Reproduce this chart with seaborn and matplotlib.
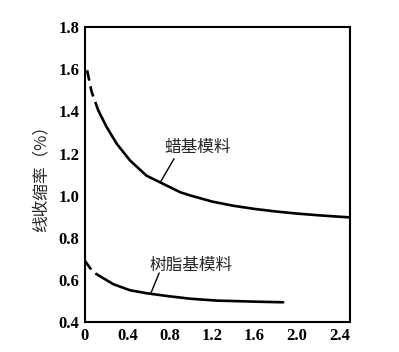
import seaborn as sns
from matplotlib import pyplot as plt

# wax-based pattern material (dashed start, then solid)
wax_dash_x = [0.02, 0.063, 0.125]
wax_dash_y = [1.595, 1.492, 1.405]
wax_x = [0.125, 0.205, 0.30, 0.425, 0.58, 0.71, 0.90, 1.00, 1.20, 1.40, 1.60, 1.80, 2.00, 2.20, 2.40, 2.50]
wax_y = [1.405, 1.325, 1.246, 1.167, 1.095, 1.063, 1.016, 1.000, 0.972, 0.952, 0.937, 0.925, 0.915, 0.907, 0.900, 0.897]

# resin-based pattern material
resin_dash_x = [0.0, 0.05, 0.11]
resin_dash_y = [0.690, 0.655, 0.627]
resin_x = [0.11, 0.267, 0.425, 0.58, 0.77, 0.99, 1.24, 1.60, 1.87]
resin_y = [0.627, 0.580, 0.551, 0.537, 0.524, 0.511, 0.502, 0.497, 0.494]

xticks = [0, 0.4, 0.8, 1.2, 1.6, 2.0, 2.4]
xtick_labels = ['0', '0.4', '0.8', '1.2', '1.6', '2.0', '2.4']
yticks = [0.4, 0.6, 0.8, 1.0, 1.2, 1.4, 1.6, 1.8]

sns.set_theme(style="white")
plt.rcParams['font.family'] = ['Liberation Serif', 'Noto Sans CJK SC', 'DejaVu Sans']

fig = plt.figure(figsize=(3.99, 3.52), dpi=100)
ax = fig.add_axes([0.213, 0.085, 0.664, 0.838])

lw = 1.9
dash = (0, (4, 2.2))
sns.lineplot(x=wax_dash_x, y=wax_dash_y, ax=ax, color='black', linewidth=lw, linestyle=dash)
sns.lineplot(x=wax_x, y=wax_y, ax=ax, color='black', linewidth=lw)
sns.lineplot(x=resin_dash_x, y=resin_dash_y, ax=ax, color='black', linewidth=lw, linestyle=dash)
sns.lineplot(x=resin_x, y=resin_y, ax=ax, color='black', linewidth=lw)

cjk = ['Noto Sans CJK SC', 'DejaVu Sans']
ax.text(1.06, 1.23, '蜡基模料', fontsize=12, family=cjk, ha='center', va='center')
ax.plot([0.84, 0.71], [1.175, 1.063], color='black', linewidth=1.0)
ax.text(1.0, 0.67, '树脂基模料', fontsize=12, family=cjk, ha='center', va='center')
ax.plot([0.70, 0.62], [0.633, 0.535], color='black', linewidth=1.0)

ax.set_xlim(0, 2.5)
ax.set_ylim(0.4, 1.8)
ax.set_xticks(xticks)
ax.set_xticklabels(xtick_labels)
ax.set_yticks(yticks)
ax.tick_params(direction='in', length=4, width=1.2, labelsize=12, colors='black', pad=4)
for lab in ax.get_xticklabels() + ax.get_yticklabels():
    lab.set_fontweight('bold')
for s in ax.spines.values():
    s.set_color('black')
    s.set_linewidth(1.5)

ax.set_xlabel('')
ax.set_ylabel('线收缩率（%）', fontsize=12, family=cjk)
ax.yaxis.set_label_coords(-0.135, 0.5)

fig.savefig('out.png', dpi=100)
